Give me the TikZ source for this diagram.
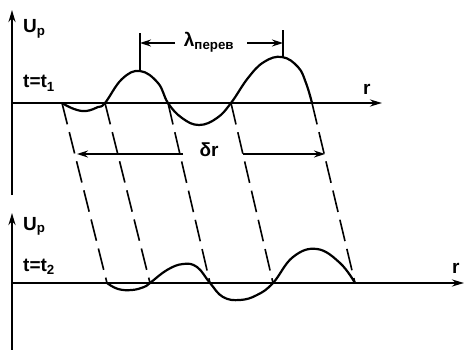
\documentclass[tikz,border=0pt]{standalone}
\usepackage{fontspec}
\setmainfont{Liberation Sans}
\usetikzlibrary{arrows.meta}

\begin{document}
\begin{tikzpicture}[
    x=1pt, y=-1pt,
    axis/.style={
        line width=2pt, -{Stealth[length=12pt,width=7pt]}
    },
    wave/.style={line width=2.2pt, line join=round, line cap=round},
    guide/.style={line width=1.6pt, dash pattern=on 22pt off 8pt},
    dim/.style={line width=1.5pt, -{Stealth[length=11pt,width=7pt]}},
    tickline/.style={line width=1.5pt},
    lbl/.style={font=\fontsize{19}{22}\selectfont\bfseries, inner sep=0pt}
]
\useasboundingbox (0,0) rectangle (466,350);

\foreach \n/\y/\ytop/\ybot/\xend/\yu/\yt/\xr/\yr in {%
    1/103/10/195/382/33/88/363/95,
    2/283/213/350/464/230/271/452/273%
} {
    \coordinate (base\n) at (12,\ybot);
    \coordinate (top\n) at (12,\ytop);
    \coordinate (orig\n) at (12,\y);
    \coordinate (end\n) at (\xend,\y);
    \draw[axis] (base\n) -- (top\n);
    \draw[axis] (orig\n) -- (end\n);
    \node[lbl, anchor=base west] (up\n) at (23,\yu) {U\textsubscript{p}};
    \node[lbl, anchor=base west] (time\n) at (23,\yt) {t=t\textsubscript{\n}};
    \node[lbl, anchor=base west] (r\n) at (\xr,\yr) {r};
}

\draw[wave] plot[smooth, tension=0.7] coordinates {
    (62,103) (74,109) (86,111) (98,107) (105,103) (122,79) (140,71)
    (158,83) (168,103) (182,118) (199,125) (217,118) (231,103) (248,78)
    (264,62) (282,57) (298,67) (306,83) (312,103)};
\draw[wave] plot[smooth, tension=0.7] coordinates {
    (107,283) (118,289) (132,290) (144,287) (150,283) (167,270) (183,264)
    (197,267) (210,283) (223,297) (240,300) (257,295) (273,283) (293,257)
    (317,249) (340,263) (355,283)};

\foreach \i/\a/\b in {1/62/107, 2/105/150, 3/168/210, 4/231/273, 5/312/355} {
    \coordinate (cross\i) at (\a,103);
    \coordinate (shift\i) at (\b,283);
    \draw[guide] (cross\i) -- (shift\i);
}

\coordinate (peakL) at (140,71);
\coordinate (peakR) at (283,57);
\coordinate (tickL) at (140,33);
\coordinate (tickR) at (283,30);
\draw[tickline] (peakL) -- (tickL);
\draw[tickline] (peakR) -- (tickR);
\node[lbl, anchor=base] (lam) at (209,47) {λ\textsubscript{перев}};
\coordinate (lamL) at (175,43);
\coordinate (lamR) at (247,43);
\draw[dim] (lamL) -- (tickL |- lamL);
\draw[dim] (lamR) -- (tickR |- lamR);

\node[lbl, anchor=base] (dr) at (209,157) {δr};
\coordinate (drL) at (183,154);
\coordinate (drR) at (243,154);
\coordinate (tipL) at (77,154);
\coordinate (tipR) at (325,154);
\draw[dim] (drL) -- (tipL);
\draw[dim] (drR) -- (tipR);
\end{tikzpicture}
\end{document}
